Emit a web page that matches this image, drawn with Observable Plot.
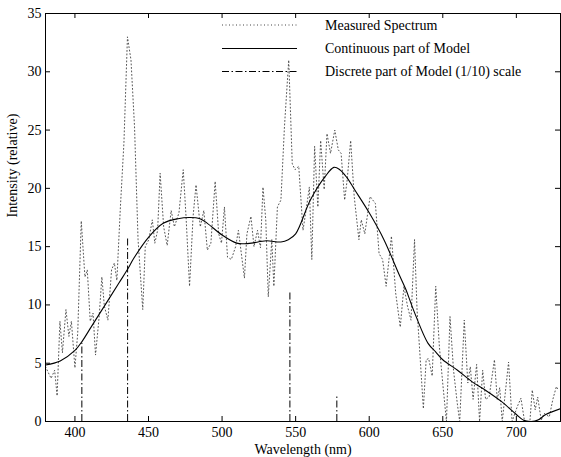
<!DOCTYPE html>
<html>
<head>
<meta charset="utf-8">
<script src="https://cdn.jsdelivr.net/npm/d3@7"></script>
<script src="https://cdn.jsdelivr.net/npm/@observablehq/plot@0.6"></script>
<style>
  html, body { margin: 0; padding: 0; background: #fff; }
  #chart { width: 561px; height: 457px; }
  #chart svg text { font-family: "Liberation Serif", "Times New Roman", serif; }
</style>
</head>
<body>
<div id="chart"></div>
<script>
// Measured spectrum (wavelength nm, relative intensity)
const measuredWavelength = [380,383.8,386.2,387.9,389.8,391.5,393.9,395.9,397.6,400,401.9,404.3,406.8,408.4,410.4,412.3,414,416.4,418.3,420,422.4,424.9,426.8,428.5,430.9,433.3,435.7,438.1,440.5,442.9,446.1,447.8,450.2,452.6,454.3,456.2,457.9,460.3,462.7,465.4,467.6,470.7,473.6,475.5,477.9,480.3,482.3,485.2,487.6,490,492.4,495.3,497.7,499.6,501.6,503.7,506.3,509.2,511.1,515.2,516.9,519.6,521.7,524.1,526.1,527.8,529.7,531.4,533.8,535.2,537.6,540,542.4,545.3,547.7,549.6,552.1,555,557.4,559.3,561,562.9,565.1,567,569.4,571.3,573.7,576.6,579,580.9,583.3,585,587.4,589.8,593,594.6,597,600.6,604.2,606.7,609.1,611.5,615.1,618,621.1,623.6,626,628.4,630.8,632.5,634.4,636.8,638.7,640.4,642.8,645.2,647.7,650.1,652.5,654.9,657.3,659.8,661.5,664.6,667,668.7,670.6,673,675,677.1,679.1,681.5,685.1,687,688.7,690.4,694.7,697.1,700.7,703.1,705.6,709.2,710.8,712.8,714.5,716.9,718.8,722.4,724.8,727.2,728];
const measuredIntensity = [4.7,3.7,4.4,2.2,8.6,5.9,9.6,7.3,8.6,4.6,7.6,17.2,12.4,13,8.6,9.3,5.7,8.9,12.4,9.9,8.7,13,13.6,12.1,18.4,23.9,33,31,25.3,15.6,9.6,15,15.6,17.3,15.3,16.4,21.3,16.7,15.1,18.1,16.7,17.9,21.6,17.6,11.6,17.6,20.3,16.7,18.1,14.7,15.3,20.6,16.1,15.3,18.4,14.1,13.9,15,16.4,12.3,16.1,17.6,15,16.4,14.9,20.1,17.3,10.7,15.6,11.6,18.4,19,25.3,31,22.1,21.6,21.9,16.4,18.4,20.1,13.9,23.6,18.4,24.1,19.9,24.7,23,25,23.3,23,19,20.7,24.1,19.3,15.6,17.3,16.1,19.3,18.7,14.4,13.9,11.6,15.9,11,8.1,11.6,9.9,8.7,15.6,9.6,5.9,1.1,5.3,5.4,3.9,11.6,6.4,3.1,0,9,4.4,1.6,0,8.7,3.3,4.7,1.9,4.9,0,4.4,1.9,2.1,5.3,1.9,2.9,0,5.1,0,1.3,2,0,0,2.7,1,2.1,0.1,0.7,0.4,1.9,3,2.8];

// Continuous part of model
const modelWavelength = [380,390,400,405,410,420,430,436,440,450,460,470,478,485,490,500,510,515,520,530,540,545,550,560,570,576,580,585,590,600,610,620,625,630,640,645,650,660,670,680,690,700,705,710,715,720,730];
const modelIntensity  = [4.85,5.2,6.1,6.9,7.9,9.9,11.9,13.1,14.0,15.8,17.0,17.4,17.5,17.4,17.0,16.0,15.3,15.25,15.3,15.5,15.4,15.6,16.1,19.0,21.0,21.8,21.6,20.9,19.9,17.9,15.6,12.7,11.3,9.6,6.7,6.0,5.3,4.4,3.4,2.6,1.7,0.6,0.1,0.0,0.15,0.6,1.1];

// Discrete part of model (1/10 scale)
const lineWavelength = [404.7, 435.8, 546.1, 578];
const lineIntensity  = [6.7, 15.7, 11.2, 2.3];

const xTicks = [400, 450, 500, 550, 600, 650, 700];
const yTicks = [0, 5, 10, 15, 20, 25, 30, 35];

const legendLabels = ["Measured Spectrum", "Continuous part of Model", "Discrete part of Model (1/10) scale"];

const measured = measuredWavelength.map((w, i) => ({w, v: measuredIntensity[i]}));
const model = modelWavelength.map((w, i) => ({w, v: modelIntensity[i]}));
const lines = lineWavelength.map((w, i) => ({w, v: lineIntensity[i]}));

const W = 561, H = 457;
const mL = 45, mR = 1, mT = 13, mB = 36;
const innerW = W - mL - mR, innerH = H - mT - mB;
const tick = 5;
const font = "Liberation Serif, Times New Roman, serif";

const plot = Plot.plot({
  width: W,
  height: H,
  marginLeft: mL, marginRight: mR, marginTop: mT, marginBottom: mB,
  style: {fontFamily: font, fontSize: "14px", background: "#fff", color: "#000"},
  x: {domain: [380, 730]},
  y: {domain: [0, 35]},
  marks: [
    Plot.line(measured, {x: "w", y: "v", stroke: "#444", strokeWidth: 0.9, strokeDasharray: "1,2.5", clip: true}),
    Plot.ruleX(lines, {x: "w", y1: 0, y2: "v", stroke: "#000", strokeWidth: 1, strokeDasharray: "7,2.5,1.5,2.5"}),
    Plot.line(model, {x: "w", y: "v", stroke: "#000", strokeWidth: 1.1, curve: "catmull-rom", clip: true}),
    Plot.frame({stroke: "#000", strokeWidth: 1}),
    // inward ticks
    Plot.tickX(xTicks, {x: d => d, insetTop: innerH - tick, stroke: "#000"}),
    Plot.tickX(xTicks, {x: d => d, insetBottom: innerH - tick, stroke: "#000"}),
    Plot.tickY(yTicks, {y: d => d, insetRight: innerW - tick, stroke: "#000"}),
    Plot.tickY(yTicks, {y: d => d, insetLeft: innerW - tick, stroke: "#000"}),
    Plot.axisX(xTicks, {tickSize: 0, tickPadding: 6, label: null, fontSize: 14, fontFamily: font}),
    Plot.axisY(yTicks, {tickSize: 0, tickPadding: 4, label: null, fontSize: 14, fontFamily: font}),
    Plot.text(["Wavelength (nm)"], {frameAnchor: "bottom", dy: 32, text: d => d, fontSize: 14, fontFamily: font, fill: "#000"}),
    Plot.text(["Intensity (relative)"], {frameAnchor: "left", dx: -33, rotate: -90, text: d => d, fontSize: 14, fontFamily: font, fill: "#000"})
  ]
});

document.getElementById("chart").appendChild(plot);

// Legend (no box), inside plot area
const svg = d3.select(plot);
const lg = svg.append("g").attr("font-family", font).attr("font-size", 14).attr("text-anchor", "start");
const dashes = ["1,2.5", null, "7,2.5,1.5,2.5"];
const colors = ["#444", "#000", "#000"];
const rowY = [25, 48.5, 71.5];
legendLabels.forEach((label, i) => {
  lg.append("line")
    .attr("x1", 222).attr("x2", 297)
    .attr("y1", rowY[i]).attr("y2", rowY[i])
    .attr("stroke", colors[i]).attr("stroke-width", 1)
    .attr("stroke-dasharray", dashes[i]);
  lg.append("text")
    .attr("x", 325).attr("y", rowY[i]).attr("dy", "0.35em")
    .attr("text-anchor", "start")
    .attr("fill", "#000")
    .text(label);
});
</script>
</body>
</html>
